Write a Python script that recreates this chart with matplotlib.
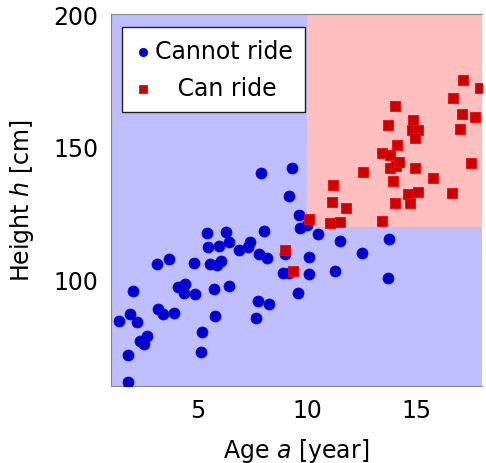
import numpy as np
import matplotlib
matplotlib.use("Agg")
import matplotlib.pyplot as plt
from matplotlib.patches import Rectangle

plt.rcParams['font.family'] = ['DejaVu Sans']
plt.rcParams['mathtext.fontset'] = 'dejavusans'

# Cannot ride (age in years, height in cm)
no_age = [1.40, 1.87, 2.22, 2.04, 1.78, 1.81, 2.34, 2.64, 2.52, 3.10,
          3.69, 3.16, 3.40, 3.89, 4.07, 4.42, 4.36, 4.86, 4.83, 5.20,
          5.15, 5.41, 5.47, 5.53, 5.87, 6.05, 5.73, 5.79, 5.96, 6.26,
          6.43, 6.43, 6.87, 7.30, 7.39, 7.78, 8.16, 8.04, 7.89, 7.75,
          8.27, 7.64, 9.00, 8.89, 9.15, 9.29, 9.18, 9.56, 9.64, 9.68,
          9.97, 10.50, 10.08, 10.09, 11.28, 11.52, 12.49, 13.74, 13.71]
no_height = [84.5, 86.9, 84.0, 95.6, 71.7, 61.5, 77.0, 78.9, 75.6, 105.7,
             107.6, 89.0, 87.1, 87.5, 97.1, 98.4, 94.8, 94.7, 106.3, 80.2,
             72.7, 117.7, 112.2, 105.9, 105.4, 106.9, 96.3, 86.4, 112.5, 118.1,
             114.1, 97.6, 111.1, 112.2, 114.1, 109.8, 108.3, 118.3, 140.0, 92.0,
             90.7, 85.7, 109.7, 102.5, 102.5, 142.0, 131.4, 95.1, 124.4, 119.3,
             120.4, 117.0, 108.6, 102.1, 103.3, 114.5, 110.2, 115.2, 100.6]

# Can ride
yes_age = [9.00, 9.36, 10.09, 11.06, 11.50, 11.12, 11.19, 11.76, 12.57, 13.43,
           13.43, 13.69, 14.00, 13.80, 14.13, 13.77, 14.04, 14.22, 13.92, 14.01,
           14.59, 14.68, 14.82, 14.80, 15.08, 14.95, 14.91, 15.08, 15.76, 16.64,
           16.69, 17.13, 17.07, 17.01, 17.67, 17.90, 17.49]
yes_height = [111.1, 103.2, 122.7, 121.3, 121.7, 129.4, 135.5, 127.0, 140.4, 122.0,
              147.7, 158.1, 165.3, 147.1, 150.8, 142.0, 142.9, 144.2, 137.2, 128.7,
              132.2, 128.8, 160.1, 156.3, 156.3, 153.4, 142.0, 133.2, 138.3, 132.6,
              168.4, 175.3, 162.5, 156.9, 161.4, 172.2, 143.9]

# decision rule: can ride if age >= 10 and height >= 120
age_cut = 10
height_cut = 120
xmin, xmax = 1, 18
ymin, ymax = 60, 200

fig = plt.figure(figsize=(4.86, 4.64), dpi=100)
ax = fig.add_axes([0.2278, 0.1666, 0.764, 0.8004])

ax.set_facecolor('#bfbfff')
ax.add_patch(Rectangle((age_cut, height_cut), xmax - age_cut, ymax - height_cut,
                       facecolor='#ffbfbf', edgecolor='none', zorder=0.5))

ax.scatter(no_age, no_height, s=62, marker='o', facecolor='#0000cc',
           edgecolor='#0000ff', linewidth=0.6, label='Cannot ride', zorder=3)
ax.scatter(yes_age, yes_height, s=62, marker='s', facecolor='#cc0000',
           edgecolor='#ff0000', linewidth=0.6, label='   Can ride', zorder=4)

ax.set_xlim(xmin, xmax)
ax.set_ylim(ymin, ymax)
ax.set_xticks([5, 10, 15])
ax.set_yticks([100, 150, 200])
ax.tick_params(length=0, labelsize=17, pad=9)

for side in ['left', 'bottom', 'top']:
    ax.spines[side].set_color('#888888')
ax.spines['right'].set_visible(False)

ax.set_xlabel('Age $a$ [year]', fontsize=17, labelpad=10)
ax.set_ylabel('Height $h$ [cm]', fontsize=17, labelpad=12)

leg = ax.legend(loc='upper left', bbox_to_anchor=(0.03, 0.966), fontsize=17,
                frameon=True, fancybox=False, edgecolor='#222222',
                framealpha=1, handletextpad=0.1, handlelength=0.8,
                borderpad=0.5, labelspacing=0.55, markerscale=0.75,
                borderaxespad=0)
leg.get_frame().set_linewidth(1.0)

fig.savefig('out.png', dpi=100)
